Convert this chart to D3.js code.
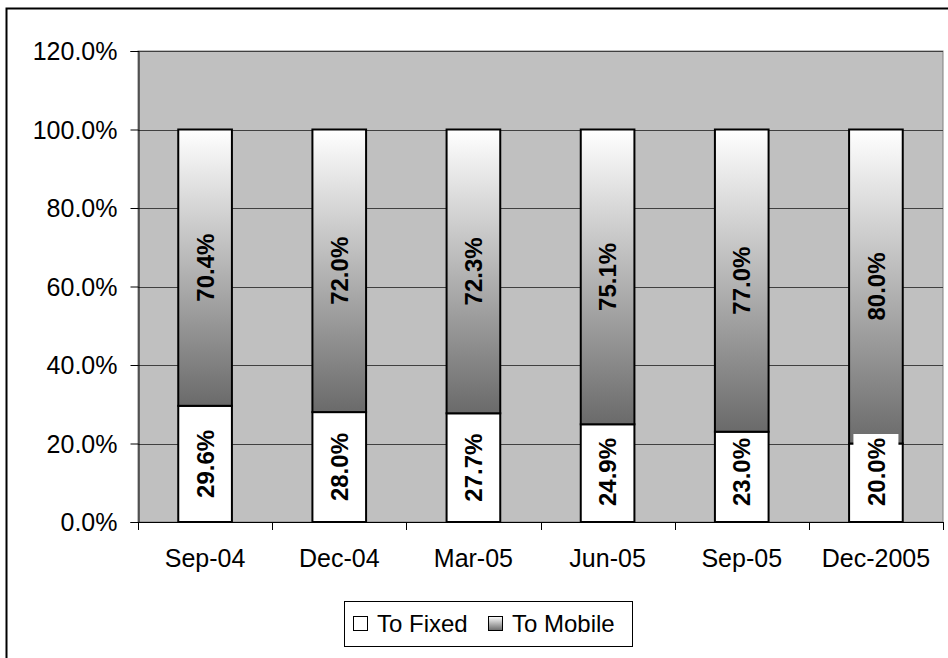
<!DOCTYPE html>
<html>
<head>
<meta charset="utf-8">
<script src="https://cdn.jsdelivr.net/npm/d3@7"></script>
<style>
  body { margin: 0; background: #fff; }
  text { font-family: "Liberation Sans", Arial, sans-serif; }
</style>
</head>
<body>
<svg id="chart" width="948" height="658"></svg>
<script>
// data
const categories = ["Sep-04", "Dec-04", "Mar-05", "Jun-05", "Sep-05", "Dec-2005"];
const toFixed = [29.6, 28.0, 27.7, 24.9, 23.0, 20.0];
const toMobile = [70.4, 72.0, 72.3, 75.1, 77.0, 80.0];
const yTicks = [0, 20, 40, 60, 80, 100, 120];
const seriesNames = ["To Fixed", "To Mobile"];

const width = 948, height = 658;
const margin = {top: 51, right: 5, bottom: 136, left: 138};
const fontSize = 25;

const svg = d3.select("#chart");

// gradient for the mobile part
const defs = svg.append("defs");
const grad = defs.append("linearGradient")
    .attr("id", "mobGrad")
    .attr("x1", 0).attr("y1", 0).attr("x2", 0).attr("y2", 1);
grad.append("stop").attr("offset", "0%").attr("stop-color", "#ffffff");
grad.append("stop").attr("offset", "100%").attr("stop-color", "#6a6a6a");

// outer frame
svg.append("rect")
    .attr("x", 6.5).attr("y", 8.5)
    .attr("width", 960).attr("height", 680)
    .attr("fill", "#fff")
    .attr("stroke", "#000")
    .attr("stroke-width", 2);

const x = d3.scaleBand()
    .domain(categories)
    .range([margin.left, width - margin.right])
    .paddingInner(0.6)
    .paddingOuter(0.3);

const bandX = d3.scaleBand()
    .domain(categories)
    .range([margin.left, width - margin.right]);

const y = d3.scaleLinear()
    .domain([0, 120])
    .range([height - margin.bottom, margin.top]);

// plot area
svg.append("rect")
    .attr("x", margin.left).attr("y", margin.top)
    .attr("width", width - margin.right - margin.left)
    .attr("height", y(0) - margin.top)
    .attr("fill", "#c0c0c0")
    .attr("stroke", "#808080")
    .attr("stroke-width", 1);

// gridlines
svg.append("g")
  .selectAll("line")
  .data(yTicks.filter(function (d) { return d > 0 }))
  .join("line")
    .attr("x1", margin.left)
    .attr("x2", width - margin.right)
    .attr("y1", function (d) { return Math.round(y(d)) + 0.5 })
    .attr("y2", function (d) { return Math.round(y(d)) + 0.5 })
    .attr("stroke", "#404040")
    .attr("stroke-width", 1);

// y axis
const yAxis = svg.append("g")
    .attr("transform", "translate(" + (margin.left + 0.5) + ",0)")
    .call(d3.axisLeft(y)
      .tickValues(yTicks)
      .tickSize(8)
      .tickPadding(13)
      .tickFormat(function (d) { return d.toFixed(1) + "%" }));
yAxis.selectAll("text").attr("font-size", fontSize).attr("fill", "#000")
    .attr("dy", "0.35em")
    .style("font-family", "'Liberation Sans', Arial, sans-serif");
yAxis.selectAll("line").attr("stroke", "#000");
yAxis.select(".domain").attr("stroke", "#000");

// x axis: ticks between categories
const xg = svg.append("g");
xg.append("line")
    .attr("x1", margin.left).attr("x2", width - margin.right)
    .attr("y1", y(0) + 0.5).attr("y2", y(0) + 0.5)
    .attr("stroke", "#000");
xg.selectAll("line.tk")
  .data(categories.concat(["end"]))
  .join("line")
    .attr("class", "tk")
    .attr("x1", function (d, i) { return Math.round(margin.left + i * bandX.bandwidth()) + 0.5 })
    .attr("x2", function (d, i) { return Math.round(margin.left + i * bandX.bandwidth()) + 0.5 })
    .attr("y1", y(0)).attr("y2", y(0) + 8)
    .attr("stroke", "#000");
xg.selectAll("text")
  .data(categories)
  .join("text")
    .attr("x", function (d) { return bandX(d) + bandX.bandwidth() / 2 })
    .attr("y", y(0) + 45)
    .attr("text-anchor", "middle")
    .attr("font-size", fontSize)
    .text(function (d) { return d });

// bars
const bars = svg.append("g");
bars.selectAll("rect.fixed")
  .data(categories)
  .join("rect")
    .attr("class", "fixed")
    .attr("x", function (d) { return x(d) })
    .attr("width", x.bandwidth())
    .attr("y", function (d, i) { return y(toFixed[i]) })
    .attr("height", function (d, i) { return y(0) - y(toFixed[i]) })
    .attr("fill", "#fff")
    .attr("stroke", "#000")
    .attr("stroke-width", 2);

bars.selectAll("rect.mobile")
  .data(categories)
  .join("rect")
    .attr("class", "mobile")
    .attr("x", function (d) { return x(d) })
    .attr("width", x.bandwidth())
    .attr("y", function (d, i) { return y(toFixed[i] + toMobile[i]) })
    .attr("height", function (d, i) { return y(toFixed[i]) - y(toFixed[i] + toMobile[i]) })
    .attr("fill", "url(#mobGrad)")
    .attr("stroke", "#000")
    .attr("stroke-width", 2);

// labels (fixed labels get a white box and are kept off the axis like excel does)
function addLabels(values, base, withBg) {
  const g = svg.append("g");
  const lab = g.selectAll("g")
    .data(categories)
    .join("g")
      .attr("transform", function (d, i) {
        const cx = x(d) + x.bandwidth() / 2;
        let cy = (y(base[i]) + y(base[i] + values[i])) / 2;
        if (withBg) cy = Math.min(cy, y(0) - 50);
        return "translate(" + cx + "," + cy + ") rotate(-90)";
      });
  if (withBg) {
    lab.append("rect")
      .attr("x", -38).attr("y", -22.5)
      .attr("width", 76).attr("height", 45)
      .attr("fill", "#fff");
  }
  lab.append("text")
    .attr("text-anchor", "middle")
    .attr("dy", "0.36em")
    .attr("font-size", 24)
    .attr("font-weight", "bold")
    .text(function (d, i) { return values[i].toFixed(1) + "%" });
}
addLabels(toFixed, toFixed.map(function () { return 0 }), true);
addLabels(toMobile, toFixed, false);

// legend
const legend = svg.append("g");
legend.append("rect")
    .attr("x", 344.5).attr("y", 601.5)
    .attr("width", 288).attr("height", 45)
    .attr("fill", "#fff")
    .attr("stroke", "#000");
const fills = ["#fff", "url(#mobGrad)"];
const lx = [353, 488];
seriesNames.forEach(function (name, i) {
  legend.append("rect")
    .attr("x", lx[i] + 0.5).attr("y", 616.5)
    .attr("width", 14).attr("height", 14)
    .attr("fill", fills[i])
    .attr("stroke", "#000");
  legend.append("text")
    .attr("x", lx[i] + 24)
    .attr("y", 632)
    .attr("font-size", 24)
    .text(name);
});
</script>
</body>
</html>
